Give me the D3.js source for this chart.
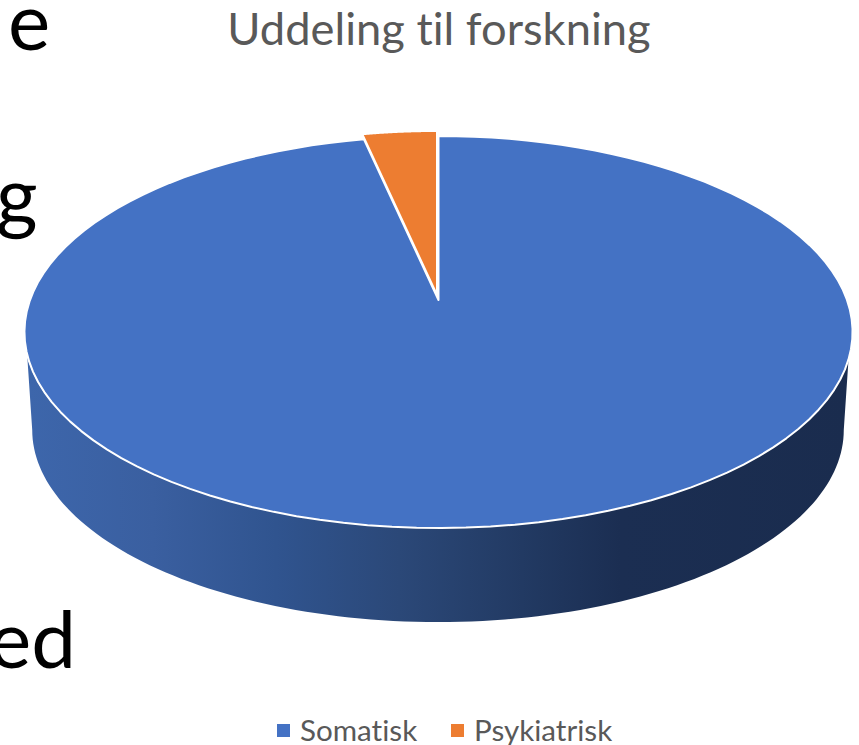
<!DOCTYPE html>
<html>
  <head>
    <meta charset="utf-8">
    <title>Uddeling til forskning</title>
    <style>
      html, body { margin: 0; padding: 0; background: #fff; overflow: hidden; }
      svg { display: block; }
      text { font-family: Lato, "Open Sans", sans-serif; font-variant-ligatures: none; }
    </style>
  </head>
  <body>
    <script src="https://d3js.org/d3.v7.min.js"></script>
    <script type="text/javascript">
      var categories = ['Somatisk', 'Psykiatrisk'];
      var values = [96.6, 3.4];
      var colors = ['#4472c4', '#ed7d31'];
      var title = 'Uddeling til forskning';

      var w = 859;
      var h = 745;

      var svg = d3.select('body').append('svg').attr('width', w).attr('height', h);

      // leftovers of the slide text behind the chart
      var slideText = [['e', 8, 50], ['g', -4, 224], ['ed', -11, 668]];
      svg.selectAll('text.slide')
        .data(slideText)
        .enter()
        .append('text')
        .attr('class', 'slide')
        .attr('x', function(d) { return d[1]; })
        .attr('y', function(d) { return d[2]; })
        .attr('font-size', 80)
        .attr('fill', '#000')
        .text(function(d) { return d[0]; });

      var defs = svg.append('defs');
      var wallGrad = defs.append('linearGradient')
        .attr('id', 'wall')
        .attr('gradientUnits', 'userSpaceOnUse')
        .attr('x1', 30).attr('x2', 850).attr('y1', 0).attr('y2', 0);
      [[0, '#3d66ab'], [0.15, '#3a5fa0'], [0.3, '#30548f'], [0.45, '#2b4878'], [0.6, '#223a63'], [0.72, '#1b2e52'], [1, '#1a2c4e']]
        .forEach(function(s) {
          wallGrad.append('stop').attr('offset', s[0]).attr('stop-color', s[1]);
        });

      // perspective tilt of the pie: unit disc to screen units
      var tilt = 0.1633;
      var xScale = d3.scaleLinear().domain([-1, 1]).range([438 - 408.5, 438 + 408.5]);
      var yScale = d3.scaleLinear().domain([-1, 1]).range([300 + 190.8, 300 - 190.8]);

      function project(a, r) {
        var s = Math.sin(a) * r, c = Math.cos(a) * r;
        var k = 1 / (1 + tilt * c);
        return [xScale(s * k), yScale(c * k)];
      }

      function arcPoints(a0, a1, r) {
        return d3.range(0, 121).map(function(i) {
          return project(a0 + (a1 - a0) * i / 120, r === undefined ? 1 : r);
        });
      }

      var line = d3.line();

      // side wall: front rim of the top, then the smaller rim further down
      var wallDrop = 98.6;
      var wallScale = 0.98;
      var leftTop = Math.PI * 2 - Math.acos(-0.2847);
      var rightTop = Math.acos(-0.2847);
      var leftBottom = Math.PI * 2 - Math.acos(-tilt);
      var rightBottom = Math.acos(-tilt);

      var bottomRim = arcPoints(leftBottom, rightBottom, 1).map(function(p) {
        return [438 + (p[0] - 438) * wallScale, 300 + (p[1] - 300) * wallScale + wallDrop];
      });
      var wallPts = arcPoints(rightTop, leftTop, 1).concat(bottomRim);

      svg.append('path')
        .attr('d', line(wallPts) + 'Z')
        .attr('fill', 'url(#wall)');

      // top of the pie, the small slice is pulled out a little
      var pie = d3.pie().sort(null);
      var slices = pie(values);
      var offsets = [[0.5, 0], [-1, -5]];

      svg.selectAll('path.slice')
        .data(slices)
        .enter()
        .append('path')
        .attr('class', 'slice')
        .attr('transform', function(d, i) { return 'translate(' + offsets[i] + ')'; })
        .attr('d', function(d) {
          return line([project(0, 0)].concat(arcPoints(d.startAngle, d.endAngle))) + 'Z';
        })
        .attr('fill', function(d, i) { return colors[i]; })
        .attr('stroke', '#fff')
        .attr('stroke-width', 2)
        .attr('stroke-linejoin', 'round');

      svg.append('text')
        .attr('x', 439)
        .attr('y', 45)
        .attr('text-anchor', 'middle')
        .attr('font-size', 45.3)
        .attr('fill', '#595959')
        .text(title);

      // legend
      var legendX = [277, 451];
      var legend = svg.selectAll('g.legend')
        .data(categories)
        .enter()
        .append('g')
        .attr('class', 'legend')
        .attr('transform', function(d, i) { return 'translate(' + legendX[i] + ',0)'; });
      legend.append('rect')
        .attr('y', 724).attr('width', 13).attr('height', 13)
        .attr('fill', function(d, i) { return colors[i]; });
      legend.append('text')
        .attr('x', 23).attr('y', 741)
        .attr('font-size', 29.6)
        .attr('fill', '#595959')
        .text(function(d) { return d; });
    </script>
  </body>
</html>
